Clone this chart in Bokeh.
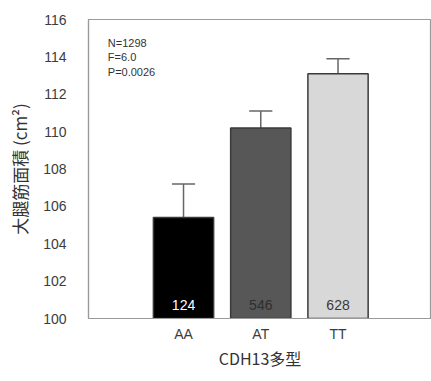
from bokeh.plotting import figure
from bokeh.models import FixedTicker, Label, ColumnDataSource
from bokeh.embed import file_html
from bokeh.resources import INLINE
from bokeh.core.properties import value

genotypes = ["AA", "AT", "TT"]
means = [105.4, 110.2, 113.1]
upper = [107.2, 111.1, 113.9]
counts = ["124", "546", "628"]
bar_colors = ["#000000", "#575757", "#d8d8d8"]
count_colors = ["#ffffff", "#2e2e2e", "#3a3a3a"]
stats = ["N=1298", "F=6.0", "P=0.0026"]
y_ticks = [100, 102, 104, 106, 108, 110, 112, 114, 116]

xs = list(range(len(genotypes)))
src = ColumnDataSource(dict(x=xs, m=means, u=upper, c=counts, fc=bar_colors, tc=count_colors,
                            cl=[x - 0.15 for x in xs], cr=[x + 0.15 for x in xs],
                            ty=[100.7] * len(xs)))

p = figure(width=431, height=372, output_backend="svg", toolbar_location=None,
           x_range=(-1.23, 3.21), y_range=(100, 116),
           min_border_left=88, min_border_right=0, min_border_top=19, min_border_bottom=50)

p.segment(x0="x", y0="m", x1="x", y1="u", source=src, line_color="#666666", line_width=1.5)
p.segment(x0="cl", y0="u", x1="cr", y1="u", source=src, line_color="#666666", line_width=1.5)
p.vbar(x="x", top="m", bottom=100, width=0.78, source=src, fill_color="fc",
       line_color="#3a3a3a", line_width=1.5)
p.text(x="x", y="ty", text="c", source=src, text_color="tc", text_align="center",
       text_baseline="middle", text_font=value("Liberation Sans"), text_font_size="14px")

for i, s in enumerate(stats):
    p.add_layout(Label(x=-0.98, y=114.75 - i * 0.78, text=s, text_font="Liberation Sans",
                       text_font_size="11px", text_color="#333333", text_baseline="middle"))

p.xgrid.visible = False
p.ygrid.visible = False
p.outline_line_color = "#9a9a9a"
p.outline_line_width = 1.2

p.yaxis.ticker = FixedTicker(ticks=y_ticks)
p.xaxis.ticker = FixedTicker(ticks=xs)
p.xaxis.major_label_overrides = {i: g for i, g in enumerate(genotypes)}

for ax in (p.xaxis[0], p.yaxis[0]):
    ax.axis_line_color = "#9a9a9a"
    ax.axis_line_width = 1.2
    ax.major_tick_line_color = None
    ax.minor_tick_line_color = None
    ax.major_label_text_font = "Liberation Sans"
    ax.major_label_text_font_size = "14px"
    ax.major_label_text_color = "#3c3c3c"
    ax.axis_label_text_font = "Noto Sans CJK JP"
    ax.axis_label_text_font_style = "normal"
    ax.axis_label_text_font_size = "17px"
    ax.axis_label_text_color = "#333333"

p.xaxis.axis_label_text_font_size = "16px"
p.yaxis.major_label_standoff = 16
p.xaxis.major_label_standoff = 1
p.yaxis.axis_label = "大腿筋面積 (cm²)"
p.xaxis.axis_label = "CDH13多型"
p.yaxis.axis_label_standoff = 8
p.xaxis.axis_label_standoff = 1

open("out.html", "w").write(file_html(p, INLINE))
